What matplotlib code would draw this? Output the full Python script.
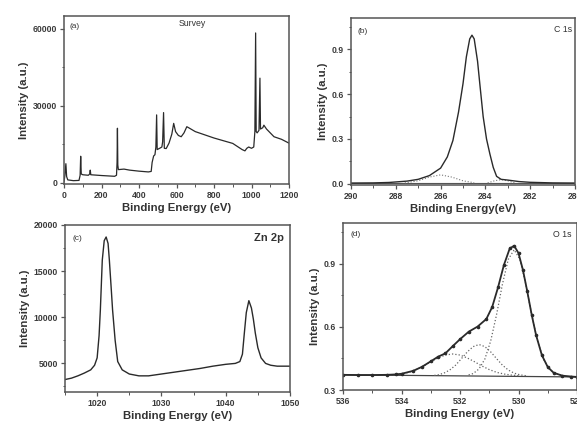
import matplotlib
matplotlib.use("Agg")
import matplotlib.pyplot as plt
from matplotlib.ticker import MultipleLocator

plt.rcParams['font.family'] = ['Liberation Sans', 'DejaVu Sans']

# ---------------- data ----------------
# (a) survey spectrum
survey_be = [0, 5, 10, 14, 20, 50, 80, 86, 89, 92, 100, 130, 137, 140, 143, 200, 270, 280, 283, 285,
             287, 290, 320, 350, 400, 450, 465, 470, 478, 485, 490, 494, 497, 510, 522, 526, 531, 535,
             545, 560, 575, 585, 595, 610, 625, 640, 655, 665, 700, 800, 900, 950, 965, 975, 985, 1000,
             1012, 1018, 1022, 1025, 1030, 1040, 1045, 1048, 1060, 1066, 1080, 1120, 1160, 1200]
survey_int = [500, 3000, 7500, 2500, 1200, 900, 1000, 3000, 10400, 3500, 3200, 3000, 3500, 5000, 3200,
              2900, 2600, 3000, 8000, 21300, 7000, 5200, 5400, 5000, 4600, 4300, 4500, 8000, 10500,
              11000, 14000, 26500, 13000, 13500, 14000, 16000, 27400, 13500, 13400, 15500, 19000,
              23200, 20000, 18500, 18000, 19500, 21900, 21500, 20000, 17500, 15400, 13000, 12500,
              13500, 14000, 13500, 14000, 20000, 58400, 20000, 19500, 20500, 40800, 21000, 21500,
              22500, 21000, 18000, 17000, 15500]

# (b) C 1s
c1s_be = [290, 289, 288.3, 287.5, 287.0, 286.5, 286.0, 285.7, 285.45, 285.2, 285.0, 284.85, 284.7,
          284.6, 284.5, 284.35, 284.25, 284.1, 283.95, 283.8, 283.65, 283.5, 283.3, 283.0, 282.5,
          282.0, 281.0, 280]
c1s_int = [0.005, 0.006, 0.009, 0.018, 0.03, 0.055, 0.105, 0.18, 0.29, 0.48, 0.67, 0.85, 0.97, 0.995,
           0.97, 0.82, 0.67, 0.45, 0.30, 0.20, 0.11, 0.05, 0.03, 0.025, 0.015, 0.01, 0.006, 0.005]
c1s_comp2_be = [287.6, 287.0, 286.5, 286.0, 285.5, 285.0, 284.5]
c1s_comp2 = [0.006, 0.02, 0.045, 0.06, 0.045, 0.02, 0.007]
c1s_comp3_be = [283.9, 283.6, 283.3, 283.0, 282.7]
c1s_comp3 = [0.006, 0.02, 0.028, 0.02, 0.006]
c1s_base_be = [290, 280]
c1s_base = [0.005, 0.005]

# (c) Zn 2p
zn_be = [1015.0, 1016.0, 1017.0, 1018.0, 1019.0, 1019.6, 1020.0, 1020.3, 1020.5, 1020.8, 1021.1,
         1021.4, 1021.7, 1021.9, 1022.2, 1022.4, 1022.8, 1023.2, 1023.9, 1025.0, 1026.5, 1028.0,
         1030.0, 1032.0, 1034.0, 1036.0, 1038.0, 1040.0, 1041.5, 1042.2, 1042.6, 1042.9, 1043.2,
         1043.6, 1044.0, 1044.3, 1044.6, 1045.0, 1045.5, 1046.2, 1047.0, 1048.0, 1050.0]
zn_int = [3250, 3400, 3650, 3950, 4300, 4800, 5600, 8000, 10800, 16200, 18300, 18700, 18000, 16200,
          13000, 10800, 7500, 5200, 4300, 3850, 3650, 3650, 3850, 4050, 4250, 4450, 4700, 4900,
          5000, 5200, 6000, 8300, 10500, 11800, 11000, 9800, 8300, 6700, 5600, 5000, 4800, 4700, 4700]

# (d) O 1s
o1s_be = [536.0, 535.5, 535.0, 534.5, 534.2, 534.0, 533.6, 533.3, 533.0, 532.75, 532.5, 532.25, 532.0,
          531.7, 531.4, 531.1, 530.9, 530.7, 530.5, 530.3, 530.15, 530.0, 529.85, 529.7, 529.55,
          529.4, 529.2, 529.0, 528.8, 528.5, 528.2, 528.0]
o1s_int = [0.372, 0.371, 0.371, 0.372, 0.374, 0.377, 0.391, 0.41, 0.436, 0.458, 0.474, 0.508, 0.541,
           0.577, 0.601, 0.637, 0.694, 0.787, 0.893, 0.972, 0.985, 0.95, 0.871, 0.768, 0.658, 0.561,
           0.465, 0.409, 0.382, 0.368, 0.364, 0.362]
o1s_c1_be = [528.55, 528.75, 528.95, 529.15, 529.35, 529.55, 529.75, 529.95, 530.15, 530.35, 530.55,
             530.75, 530.95, 531.15, 531.35, 531.55, 531.75]
o1s_c1 = [0.370, 0.378, 0.400, 0.447, 0.533, 0.658, 0.802, 0.920, 0.966, 0.920, 0.802, 0.658, 0.533,
          0.447, 0.400, 0.378, 0.370]
o1s_c2_be = [529.75, 529.95, 530.15, 530.35, 530.55, 530.75, 530.95, 531.15, 531.35, 531.55, 531.75,
             531.95, 532.15, 532.35, 532.55, 532.75, 532.95]
o1s_c2 = [0.368, 0.372, 0.380, 0.395, 0.418, 0.449, 0.481, 0.506, 0.516, 0.506, 0.481, 0.449, 0.418,
          0.395, 0.380, 0.372, 0.368]
o1s_c3_be = [530.00, 530.25, 530.50, 530.75, 531.00, 531.25, 531.50, 531.75, 532.00, 532.25, 532.50,
             532.75, 533.00, 533.25, 533.50, 533.75, 534.00, 534.25, 534.50]
o1s_c3 = [0.368, 0.371, 0.376, 0.384, 0.397, 0.414, 0.434, 0.452, 0.466, 0.471, 0.466, 0.452, 0.434,
          0.414, 0.397, 0.384, 0.376, 0.371, 0.368]
o1s_base_be = [536, 528]
o1s_base = [0.372, 0.362]

# ---------------- figure ----------------
W, H = 577, 428
fig = plt.figure(figsize=(W / 100, H / 100), dpi=100)


def box(l, t, r, b):
    return [l / W, 1 - b / H, (r - l) / W, (b - t) / H]


LC = '#2a2a2a'
SC = '#555555'
TICK_FS = 6.2
LAB_FS = 8.2


def style(ax, xlabel, xmaj, xmin, ymaj, ymin):
    for s in ax.spines.values():
        s.set_color(SC)
        s.set_linewidth(1.1)
    ax.xaxis.set_major_locator(MultipleLocator(xmaj))
    ax.xaxis.set_minor_locator(MultipleLocator(xmin))
    ax.yaxis.set_major_locator(MultipleLocator(ymaj))
    ax.yaxis.set_minor_locator(MultipleLocator(ymin))
    ax.tick_params(which='major', direction='out', length=3, width=0.9, colors=SC,
                   labelsize=TICK_FS, labelcolor='#3a3a3a', pad=2)
    ax.tick_params(which='minor', direction='out', length=1.8, width=0.7, colors=SC)
    for lab in ax.get_xticklabels() + ax.get_yticklabels():
        lab.set_fontweight('bold')
    ax.set_xlabel(xlabel, fontsize=LAB_FS, fontweight='bold', color='#333333', labelpad=2)
    ax.set_ylabel('Intensity (a.u.)', fontsize=LAB_FS, fontweight='bold', color='#333333', labelpad=3)


# (a)
axa = fig.add_axes(box(64, 16, 289, 184))
axa.plot(survey_be, survey_int, color=LC, lw=0.9)
axa.set_xlim(0, 1200)
axa.set_ylim(-400, 65000)
style(axa, 'Binding Energy (eV)', 200, 100, 30000, 15000)
axa.text(0.025, 0.94, '(a)', transform=axa.transAxes, fontsize=6, color='#333333', va='center')
axa.text(0.57, 0.955, 'Survey', transform=axa.transAxes, fontsize=6.3, color='#333333',
         va='center', ha='center')

# (b)
axb = fig.add_axes(box(351, 18, 575, 185))
axb.plot(c1s_base_be, c1s_base, color='#555555', lw=0.8)
axb.plot(c1s_comp2_be, c1s_comp2, color='#777777', lw=0.8, ls=':')
axb.plot(c1s_comp3_be, c1s_comp3, color='#777777', lw=0.8, ls=':')
axb.plot(c1s_be, c1s_int, color=LC, lw=1.0)
axb.set_xlim(290, 280)
axb.set_ylim(-0.008, 1.11)
style(axb, 'Binding Energy(eV)', 2, 1, 0.3, 0.15)
axb.text(0.03, 0.92, '(b)', transform=axb.transAxes, fontsize=6, color='#333333', va='center')
axb.text(0.985, 0.93, 'C 1s', transform=axb.transAxes, fontsize=6.3, color='#333333',
         va='center', ha='right')

# (c)
axc = fig.add_axes(box(65, 225, 290, 392))
axc.plot(zn_be, zn_int, color=LC, lw=1.0)
axc.set_xlim(1015, 1050)
axc.set_ylim(1900, 20000)
style(axc, 'Binding Energy (eV)', 10, 5, 5000, 2500)
axc.text(0.035, 0.92, '(c)', transform=axc.transAxes, fontsize=6, color='#333333', va='center')
axc.text(0.975, 0.925, 'Zn 2p', transform=axc.transAxes, fontsize=8, fontweight='bold',
         color='#333333', va='center', ha='right')

# (d)
axd = fig.add_axes(box(343, 223, 577, 390))
axd.plot(o1s_base_be, o1s_base, color='#444444', lw=0.9)
axd.plot(o1s_c1_be, o1s_c1, color='#666666', lw=0.9, ls=':')
axd.plot(o1s_c2_be, o1s_c2, color='#666666', lw=0.9, ls=':')
axd.plot(o1s_c3_be, o1s_c3, color='#666666', lw=0.9, ls=':')
axd.plot(o1s_be, o1s_int, color=LC, lw=1.3, marker='o', ms=1.6, mfc=LC, mec=LC)
axd.set_xlim(536, 528)
axd.set_ylim(0.3, 1.093)
style(axd, 'Binding Energy (eV)', 2, 1, 0.3, 0.15)
axd.text(0.03, 0.93, '(d)', transform=axd.transAxes, fontsize=6, color='#333333', va='center')
axd.text(0.975, 0.93, 'O 1s', transform=axd.transAxes, fontsize=6.3, color='#333333',
         va='center', ha='right')

fig.savefig('out.png', dpi=100, facecolor='white')
